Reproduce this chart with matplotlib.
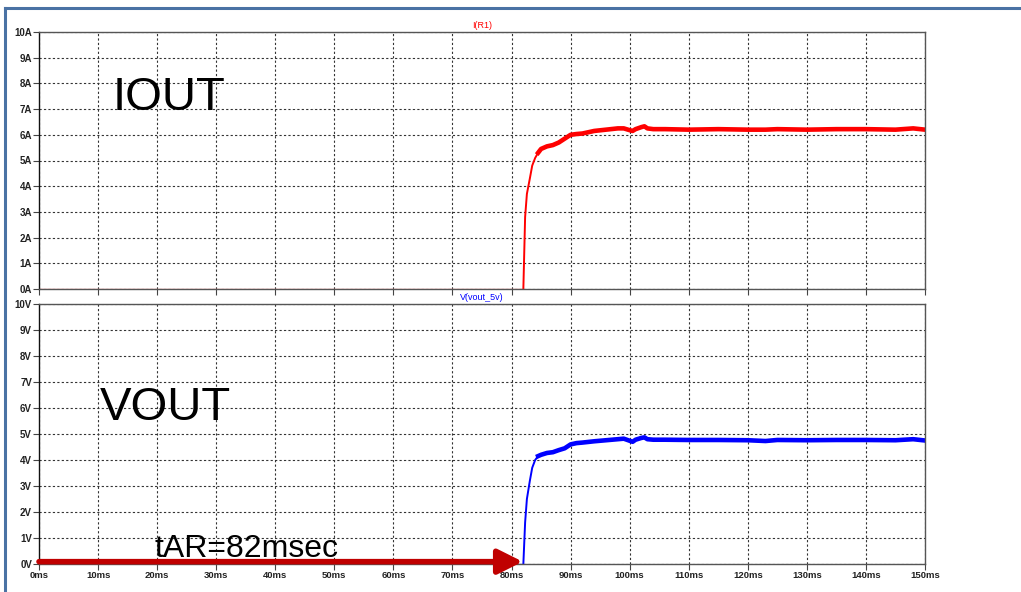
import numpy as np
import matplotlib.pyplot as plt
from matplotlib.lines import Line2D

# time axis (ms) and waveforms
t_off = [0, 82.0]
i_off = [0, 0]
v_off = [0, 0]

t_rise = [82.0, 82.3, 82.6, 83.1, 83.5, 84.0, 84.5]
i_rise = [0.0, 2.8, 3.7, 4.3, 4.8, 5.1, 5.3]
v_rise = [0.0, 1.6, 2.5, 3.2, 3.7, 4.0, 4.15]

t_set = [84.5, 85, 86, 87, 88, 89, 90, 91, 92, 94, 96, 98, 99, 100, 100.5,
         101, 102, 102.5, 103, 104, 106, 110, 115, 120, 123, 125, 130, 135,
         140, 145, 148, 150]
i_set = [5.3, 5.45, 5.55, 5.6, 5.7, 5.85, 6.0, 6.03, 6.05, 6.15, 6.2, 6.25, 6.25,
         6.18, 6.15, 6.22, 6.3, 6.33, 6.25, 6.22, 6.22, 6.2, 6.22, 6.2, 6.2,
         6.22, 6.2, 6.22, 6.22, 6.2, 6.25, 6.2]
v_set = [4.15, 4.2, 4.27, 4.3, 4.38, 4.45, 4.6, 4.65, 4.67, 4.72, 4.76, 4.8, 4.82,
         4.74, 4.7, 4.78, 4.85, 4.87, 4.8, 4.78, 4.78, 4.77, 4.77, 4.76, 4.73,
         4.77, 4.76, 4.77, 4.77, 4.76, 4.8, 4.75]

x_ticks = list(range(0, 151, 10))
x_labels = [f"{x}ms" for x in x_ticks]
y_ticks = list(range(0, 11))
i_labels = [f"{y}A" for y in y_ticks]
v_labels = [f"{y}V" for y in y_ticks]

W, H = 1021, 592
fig = plt.figure(figsize=(W / 100, H / 100), dpi=100)
plt.rcParams['font.family'] = ['Liberation Sans', 'DejaVu Sans']

def px(x0, y0, x1, y1):
    return [x0 / W, 1 - y1 / H, (x1 - x0) / W, (y1 - y0) / H]

ax1 = fig.add_axes(px(39, 32, 925, 289))
ax2 = fig.add_axes(px(39, 304, 925, 564))

def style(ax, labels, title, tcolor, show_x):
    ax.set_xlim(0, 150)
    ax.set_ylim(0, 10)
    ax.set_xticks(x_ticks)
    ax.set_yticks(y_ticks)
    ax.set_yticklabels(labels, fontsize=7, fontweight='bold', color='#222222')
    if show_x:
        ax.set_xticklabels(x_labels, fontsize=6.8, fontweight='bold', color='#222222')
    else:
        ax.set_xticklabels([])
    ax.tick_params(direction='out', length=4, width=0.8, pad=1, color='#444444')
    ax.grid(True, color='#333333', linestyle=(0, (2, 2)), linewidth=0.8)
    for s in ax.spines.values():
        s.set_color('#555555')
        s.set_linewidth(1.0)
    ax.spines['left'].set_color('#111111')
    ax.set_title(title, fontsize=6.5, color=tcolor, pad=3)

style(ax1, i_labels, 'I(R1)', 'red', False)
style(ax2, v_labels, 'V(vout_5v)', 'blue', True)

ax1.plot(t_off, i_off, color='#ff8080', lw=1.0)
ax1.plot(t_rise, i_rise, color='red', lw=1.4)
ax1.plot(t_set, i_set, color='red', lw=3.3, solid_joinstyle='round')

ax2.plot(t_off, v_off, color='#8080ff', lw=1.0)
ax2.plot(t_rise, v_rise, color='blue', lw=1.4)
ax2.plot(t_set, v_set, color='blue', lw=3.3, solid_joinstyle='round')

ax1.text(12.4, 6.96, 'IOUT', fontsize=34, color='black')
ax2.text(10.3, 5.54, 'VOUT', fontsize=34, color='black')
ax2.text(19.6, 0.27, 'tAR=82msec', fontsize=23, color='black')

ax2.annotate('', xy=(81.9, 0.09), xytext=(0, 0.09),
             arrowprops=dict(arrowstyle='-|>,head_length=1.5,head_width=0.75',
                             color='#c00000', lw=4, shrinkA=0, shrinkB=0),
             annotation_clip=False)

# window frame
fig.add_artist(Line2D([5 / W, 5 / W], [0, 1 - 8 / H], color='#4a72a4', lw=2.2,
                      transform=fig.transFigure))
fig.add_artist(Line2D([5 / W, 1], [1 - 8 / H, 1 - 8 / H], color='#4a72a4', lw=2.2,
                      transform=fig.transFigure))

fig.savefig('out.png', dpi=100)
